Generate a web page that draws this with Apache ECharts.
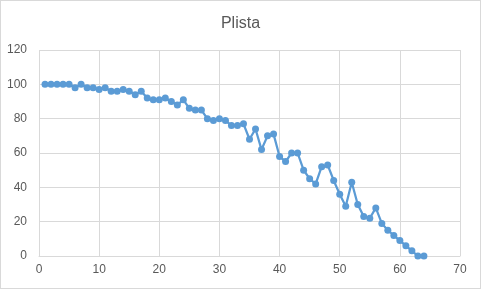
<!DOCTYPE html>
<html><head><meta charset="utf-8">
<script src="https://cdn.jsdelivr.net/npm/echarts@6/dist/echarts.min.js"></script>
<style>html,body{margin:0;padding:0;background:#fff}#c{width:481px;height:289px;box-sizing:border-box;border:1px solid #d9d9d9}</style>
</head><body><div id="c"></div>
<script>
const xValues = [1,2,3,4,5,6,7,8,9,10,11,12,13,14,15,16,17,18,19,20,21,22,23,24,25,26,27,28,29,30,31,32,33,34,35,36,37,38,39,40,41,42,43,44,45,46,47,48,49,50,51,52,53,54,55,56,57,58,59,60,61,62,63,64];
const yValues = [100,100,100,100,100,98,100,98,98,97,98,96,96,97,96,94,96,92,91,91,92,90,88,91,86,85,85,80,79,80,79,76,76,77,68,74,62,70,71,58,55,60,60,50,45,42,52,53,44,36,29,43,30,23,22,28,19,15,12,9,6,3,0,0];
const titleText = "Plista";
const chart = echarts.init(document.getElementById('c'));
chart.setOption({
  animation:false,
  title:{text:titleText,left:'center',top:10,textStyle:{color:'#595959',fontSize:16,fontWeight:'normal',fontFamily:'Liberation Sans'}},
  grid:{left:38,right:20,top:49,bottom:32},
  xAxis:{type:'value',min:0,max:70,interval:10,
    axisLine:{show:true,lineStyle:{color:'#d9d9d9'}},axisTick:{show:false},
    axisLabel:{color:'#595959',fontSize:12,fontFamily:'Liberation Sans',margin:8},
    splitLine:{show:true,lineStyle:{color:'#d9d9d9'}}},
  yAxis:{type:'value',min:0,max:120,interval:20,
    axisLine:{show:false},axisTick:{show:false},
    axisLabel:{color:'#595959',fontSize:12,fontFamily:'Liberation Sans',margin:12},
    splitLine:{show:true,lineStyle:{color:'#d9d9d9'}}},
  series:[{type:'line',data:xValues.map((x,i)=>[x,yValues[i]]),
    symbol:'circle',symbolSize:7,
    lineStyle:{color:'#5b9bd5',width:2.25},itemStyle:{color:'#5b9bd5'}}]
});
</script></body></html>
